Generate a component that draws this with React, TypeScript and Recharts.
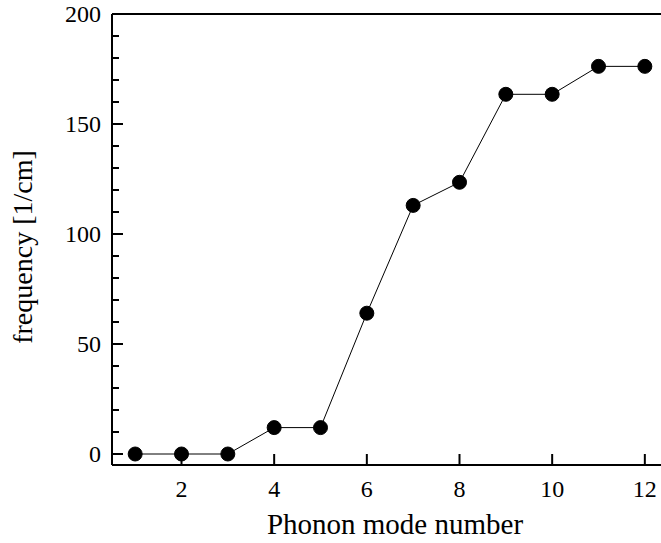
import { LineChart, Line, XAxis, YAxis, ReferenceLine } from "recharts";

const modes = [1, 2, 3, 4, 5, 6, 7, 8, 9, 10, 11, 12];
const frequency = [0, 0, 0, 12, 12, 64, 113, 123.5, 163.5, 163.5, 176.2, 176.2];

const xTicks = [2, 4, 6, 8, 10, 12];
const yTicks = [0, 10, 20, 30, 40, 50, 60, 70, 80, 90, 100, 110, 120, 130, 140, 150, 160, 170, 180, 190, 200];
const yLabelled = [0, 50, 100, 150, 200];

const data = modes.map((m, i) => ({ mode: m, freq: frequency[i] }));

const FONT = "'Liberation Serif', 'Times New Roman', serif";

function XTick({ x, y, payload }: any) {
  return (
    <g>
      <line x1={x} x2={x} y1={y} y2={y - 11} stroke="#000" strokeWidth={2} />
      <text x={x} y={y + 32} textAnchor="middle" fontSize={24} fontFamily={FONT} fill="#000">
        {payload.value}
      </text>
    </g>
  );
}

function YTick({ x, y, payload }: any) {
  const major = yLabelled.includes(payload.value);
  return (
    <g>
      <line x1={x} x2={x + (major ? 11 : 7)} y1={y} y2={y} stroke="#000" strokeWidth={2} />
      {major && (
        <text x={x - 11} y={y + 8} textAnchor="end" fontSize={24} fontFamily={FONT} fill="#000">
          {payload.value}
        </text>
      )}
    </g>
  );
}

export default function App() {
  return (
    <div
      style={{
        position: "fixed",
        left: 0,
        top: 0,
        width: 661,
        height: 543,
        overflow: "hidden",
        background: "#fff",
      }}
    >
      <LineChart width={680} height={543} data={data} margin={{ top: 14, right: 12, left: 0, bottom: 0 }}>
        <XAxis
          dataKey="mode"
          type="number"
          domain={[0.5, 12.5]}
          ticks={xTicks}
          interval={0}
          tickSize={0}
          tickMargin={0}
          tickLine={false}
          axisLine={{ stroke: "#000", strokeWidth: 2 }}
          tick={<XTick />}
          height={78}
          label={({ viewBox }: any) => (
            <text
              x={395}
              y={viewBox.y + 69}
              textAnchor="middle"
              fontSize={29}
              fontFamily={FONT}
              fill="#000"
            >
              Phonon mode number
            </text>
          )}
        />
        <YAxis
          type="number"
          domain={[-5, 200]}
          ticks={yTicks}
          interval={0}
          tickSize={0}
          tickMargin={0}
          tickLine={false}
          axisLine={{ stroke: "#000", strokeWidth: 2 }}
          tick={<YTick />}
          width={112}
          label={() => (
            <text
              x={32}
              y={247}
              transform="rotate(-90 32 247)"
              textAnchor="middle"
              fontSize={28}
              fontFamily={FONT}
              fill="#000"
            >
              frequency [1/cm]
            </text>
          )}
        />
        <ReferenceLine y={200} stroke="#000" strokeWidth={2} />
        <Line
          dataKey="freq"
          stroke="#000"
          strokeWidth={1}
          isAnimationActive={false}
          dot={{ r: 7, fill: "#000", stroke: "#000", strokeWidth: 1 }}
          activeDot={false}
        />
      </LineChart>
    </div>
  );
}
